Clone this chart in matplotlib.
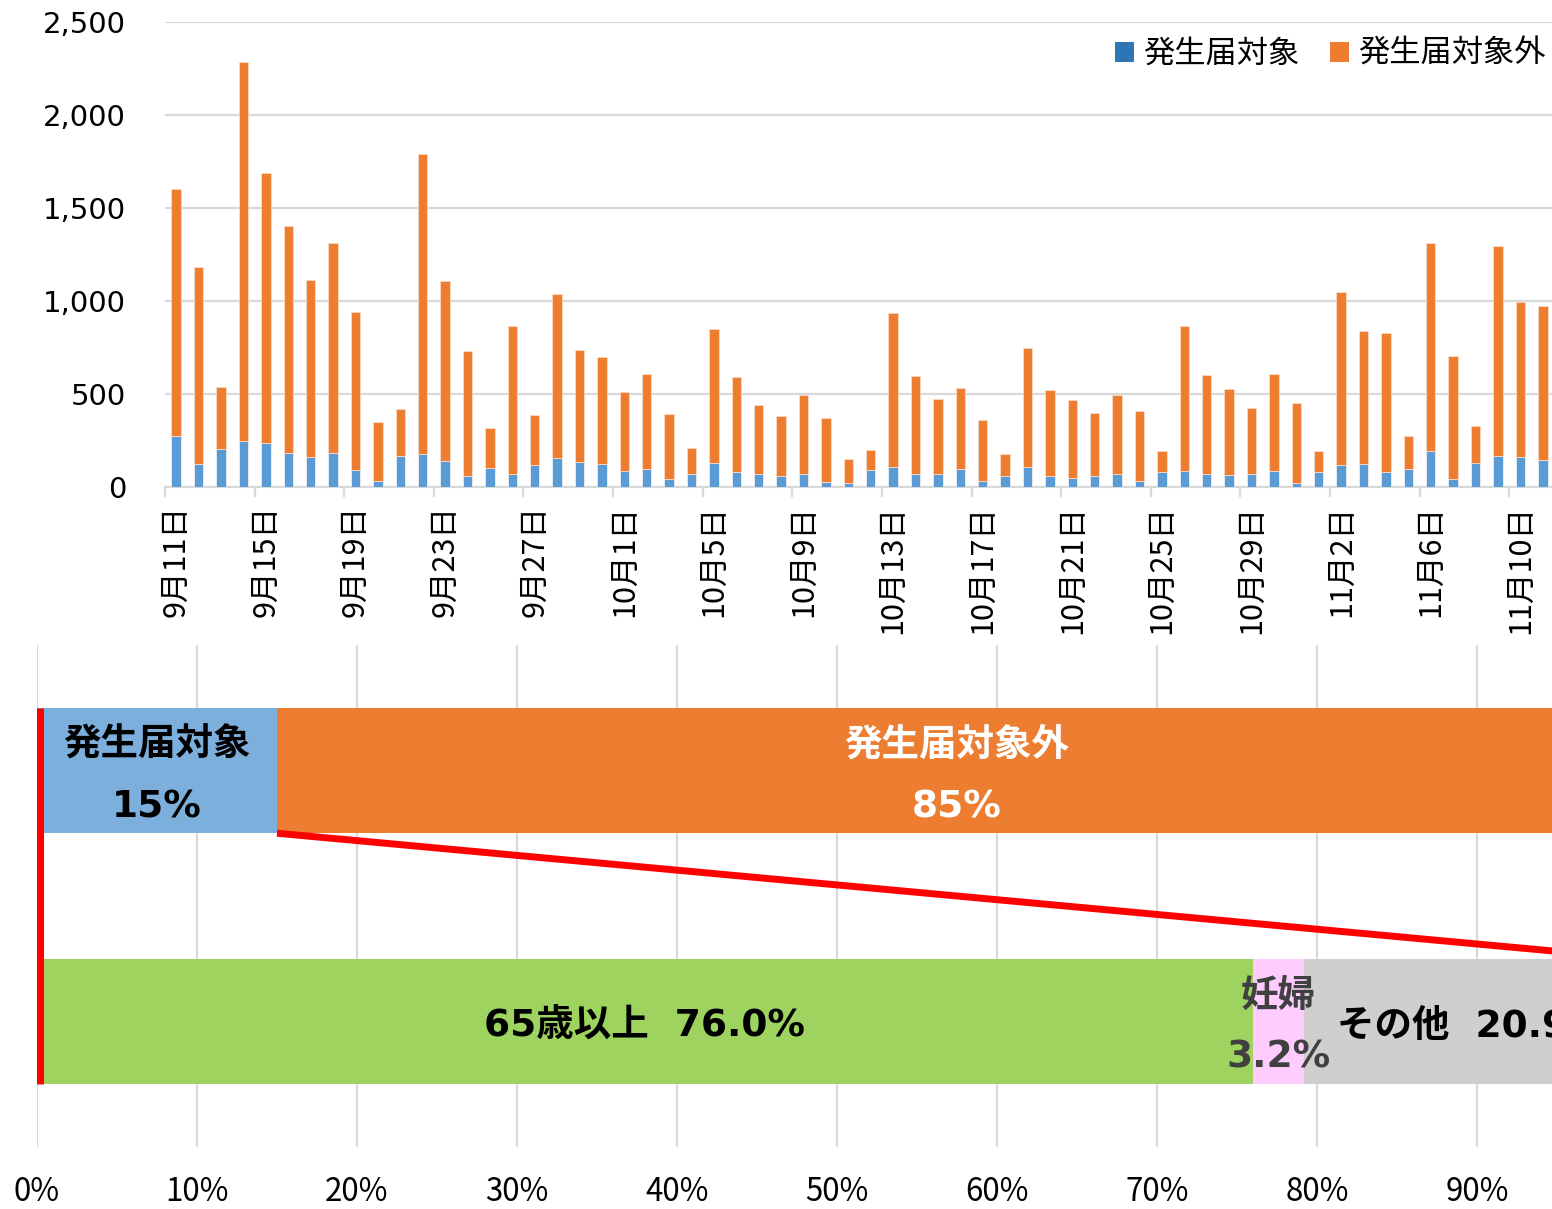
import numpy as np
import matplotlib
matplotlib.use("Agg")
import matplotlib.pyplot as plt
from matplotlib.patches import Patch

JP = "Noto Sans CJK JP"
MIX = ["DejaVu Sans", "Noto Sans CJK JP"]
plt.rcParams['font.family'] = MIX

# daily counts 9/11 - 11/11
notified = [275, 122, 205, 248, 235, 181, 162, 183, 92, 32, 167, 178, 142, 59, 104, 70,
            119, 156, 137, 121, 88, 99, 41, 68, 131, 81, 70, 59, 68, 29, 22, 94,
            110, 72, 72, 97, 32, 58, 106, 61, 51, 61, 72, 34, 79, 88, 68, 65,
            68, 88, 22, 79, 119, 122, 83, 95, 196, 45, 129, 164, 162, 146]
not_notified = [1327, 1060, 330, 2037, 1454, 1222, 950, 1127, 848, 315, 253, 1615, 963, 674, 214, 796,
                269, 883, 598, 578, 424, 510, 352, 142, 721, 509, 369, 324, 425, 340, 127, 104,
                825, 523, 399, 433, 327, 117, 642, 459, 418, 336, 422, 376, 117, 777, 534, 462,
                356, 518, 429, 117, 929, 717, 744, 177, 1114, 659, 197, 1132, 835, 828]
date_labels = ['9月11日', '9月15日', '9月19日', '9月23日', '9月27日', '10月1日', '10月5日', '10月9日',
               '10月13日', '10月17日', '10月21日', '10月25日', '10月29日', '11月2日', '11月6日', '11月10日']
y_ticks = [0, 500, 1000, 1500, 2000, 2500]

# share bars (percent)
share_labels = ['発生届対象', '発生届対象外']
share_values = [15, 85]
group_labels = ['65歳以上', '妊婦', 'その他']
group_values = [76.0, 3.2, 20.9]
pct_ticks = [0, 10, 20, 30, 40, 50, 60, 70, 80, 90]

BLUE = '#5B9BD5'
ORANGE = '#ED7D31'
GRID = '#D9D9D9'

fig = plt.figure(figsize=(15.52, 12.09), dpi=100)

# ---- top: daily stacked bars
ax = fig.add_axes([165/1552, 1 - 487/1209, 1389/1552, 465/1209])
x = np.arange(len(notified))
ax.bar(x, notified, width=0.42, color=BLUE, edgecolor='#F4F8FC', linewidth=0.5, zorder=3)
ax.bar(x, not_notified, bottom=notified, width=0.42, color=ORANGE, edgecolor='#FBE0CF',
       linewidth=0.5, zorder=3)
ax.set_xlim(-0.5, len(notified) - 0.5)
ax.set_ylim(0, 2500)
ax.set_yticks(y_ticks)
ax.set_yticklabels([f'{v:,}' for v in y_ticks], fontsize=21, family='DejaVu Sans')
ax.tick_params(axis='y', length=0, pad=28)
ax.yaxis.grid(True, color=GRID, linewidth=1.6, zorder=0)
ax.set_xticks(x[::4])
ax.set_xticklabels(date_labels, rotation=90, fontsize=22, family=JP, va='top')
ax.set_xticks(np.arange(-0.5, len(notified), 4), minor=True)
ax.tick_params(axis='x', which='major', length=0, pad=13)
ax.tick_params(axis='x', which='minor', length=7, width=1.6, color=GRID)
for s in ['top', 'right', 'left']:
    ax.spines[s].set_visible(False)
ax.spines['bottom'].set_color(GRID)
ax.spines['bottom'].set_linewidth(1.6)

handles = [Patch(facecolor='#2E75B6', label='発生届対象'),
           Patch(facecolor=ORANGE, label='発生届対象外')]
fig.legend(handles=handles, loc='center right', bbox_to_anchor=(1546/1552, 1 - 54/1209),
           ncol=2, frameon=False, prop={'family': JP, 'size': 22.5},
           handlelength=0.6, handleheight=0.6, handletextpad=0.3, columnspacing=1.0,
           borderpad=0, borderaxespad=0)

# ---- bottom: 100% bars
bx = fig.add_axes([37/1552, 1 - 1147/1209, 1600/1552, 502/1209])
bx.set_xlim(0, 100)
bx.set_ylim(-0.5, 1.5)

left = 0
for lab, val, col in zip(share_labels, share_values, ['#7DAFDD', ORANGE]):
    bx.barh(1, val, left=left, height=0.5, color=col, zorder=3)
    tc = 'black' if col != ORANGE else 'white'
    cx = left + val / 2
    bx.annotate(lab, (cx, 1), xytext=(0, 18), textcoords='offset points', ha='center',
                va='center', fontsize=27, fontweight='bold', color=tc, family=MIX, zorder=5)
    bx.annotate(f'{val}%', (cx, 1), xytext=(0, -26.5), textcoords='offset points', ha='center',
                va='center', fontsize=27, fontweight='bold', color=tc, family=MIX, zorder=5)
    left += val

left = 0
for lab, val, col in zip(group_labels, group_values, ['#9DD35E', '#FFCCFF', '#D0CECE']):
    bx.barh(0, val, left=left, height=0.5, color=col, zorder=3)
    cx = left + val / 2
    if lab == '妊婦':
        bx.annotate(lab, (cx, 0), xytext=(0, 18), textcoords='offset points', ha='center',
                    va='center', fontsize=27, fontweight='bold', color='#404040', family=MIX, zorder=5)
        bx.annotate(f'{val}%', (cx, 0), xytext=(0, -26), textcoords='offset points', ha='center',
                    va='center', fontsize=27, fontweight='bold', color='#404040', family=MIX, zorder=5)
    else:
        bx.annotate(f'{lab}  {val:.1f}%', (cx, 0), xytext=(0, -4), textcoords='offset points',
                    ha='center', va='center', fontsize=27, fontweight='bold', color='black',
                    family=MIX, zorder=5)
    left += val

# zoom lines
bx.plot([0.15, 0.15], [1.25, -0.25], color='red', linewidth=6.5, zorder=4, solid_capstyle='butt')
bx.plot([share_values[0], 100], [0.75, 0.25], color='red', linewidth=5, zorder=4,
        solid_capstyle='butt', clip_on=False)

bx.set_xticks(pct_ticks)
bx.set_xticklabels([f'{p}%' for p in pct_ticks], fontsize=22.5, family=JP)
bx.tick_params(axis='x', length=0, pad=21)
bx.set_yticks([])
bx.xaxis.grid(True, color=GRID, linewidth=1.6, zorder=0)
for s in bx.spines.values():
    s.set_visible(False)

fig.savefig('out.png', dpi=100)
